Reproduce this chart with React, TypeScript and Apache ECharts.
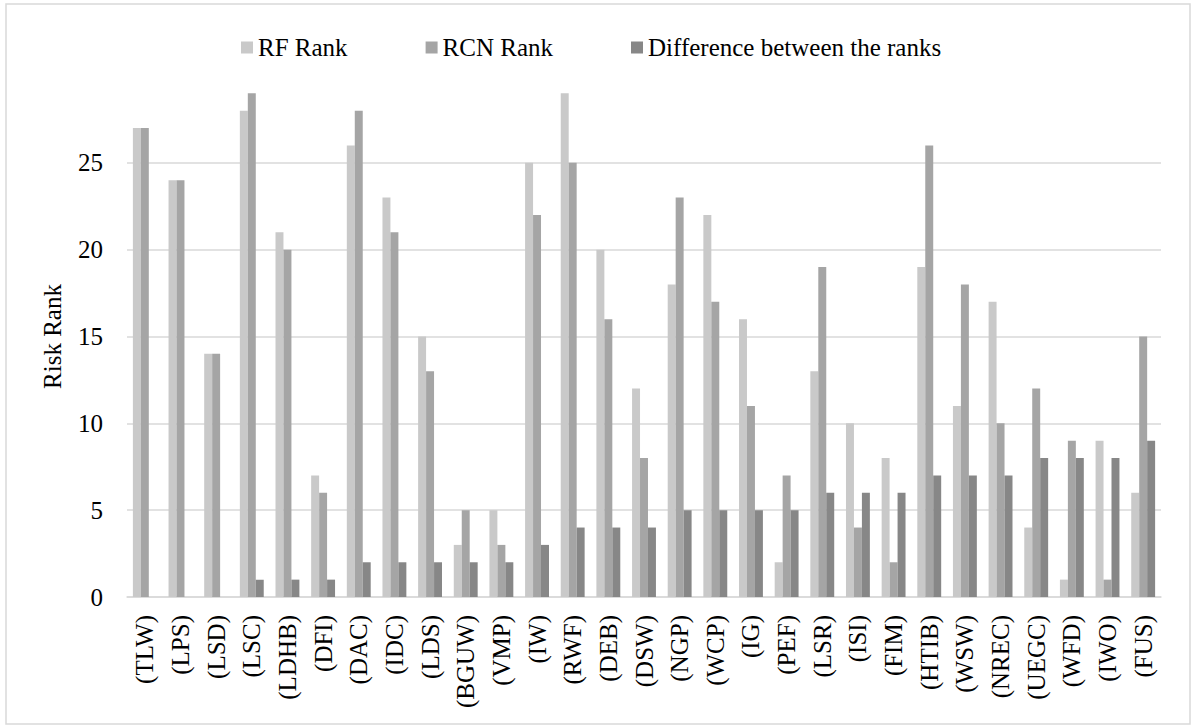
import React, { useEffect, useRef } from "react";
import * as echarts from "echarts";

const categories = ["(TLW)", "(LPS)", "(LSD)", "(LSC)", "(LDHB)", "(DFI)", "(DAC)", "(IDC)", "(LDS)", "(BGUW)", "(VMP)", "(IW)", "(RWF)", "(DEB)", "(DSW)", "(NGP)", "(WCP)", "(IG)", "(PEF)", "(LSR)", "(ISI)", "(FIM)", "(HTIB)", "(WSW)", "(NREC)", "(UEGC)", "(WFD)", "(IWO)", "(FUS)"];
const rfRank = [27, 24, 14, 28, 21, 7, 26, 23, 15, 3, 5, 25, 29, 20, 12, 18, 22, 16, 2, 13, 10, 8, 19, 11, 17, 4, 1, 9, 6];
const rcnRank = [27, 24, 14, 29, 20, 6, 28, 21, 13, 5, 3, 22, 25, 16, 8, 23, 17, 11, 7, 19, 4, 2, 26, 18, 10, 12, 9, 1, 15];
const diffRank = [0, 0, 0, 1, 1, 1, 2, 2, 2, 2, 2, 3, 4, 4, 4, 5, 5, 5, 5, 6, 6, 6, 7, 7, 7, 8, 8, 8, 9];
const yTicks = [0, 5, 10, 15, 20, 25];
const seriesNames = ["RF Rank", "RCN Rank", "Difference between the ranks"];

const FONT = "Liberation Serif";
const FS = 25;

export default function App() {
  const ref = useRef<HTMLDivElement>(null);
  useEffect(() => {
    if (!ref.current) return;
    const chart = echarts.init(ref.current, undefined, { renderer: "svg" });
    const colors = ["#c9c9c9", "#a5a5a5", "#878787"];
    const datas = [rfRank, rcnRank, diffRank];
    chart.setOption({
      animation: false,
      backgroundColor: "#ffffff",
      textStyle: { fontFamily: FONT },
      graphic: [
        {
          type: "rect",
          shape: { x: 6, y: 4, width: 1184, height: 720 },
          style: { fill: "none", stroke: "#d9d9d9", lineWidth: 1.5 },
          silent: true,
        },
      ],
      legend: {
        data: seriesNames,
        left: 236,
        top: 30,
        itemWidth: 12,
        itemHeight: 12,
        itemGap: 78,
        icon: "rect",
        textStyle: { fontFamily: FONT, fontSize: FS, color: "#000" },
      },
      grid: { left: 127, right: 33, top: 76, height: 521 },
      xAxis: {
        type: "category",
        data: categories,
        axisLine: { lineStyle: { color: "#d9d9d9", width: 1.5 } },
        axisTick: { show: false },
        axisLabel: {
          rotate: 90,
          interval: 0,
          margin: 18,
          fontFamily: FONT,
          fontSize: FS,
          color: "#000",
        },
      },
      yAxis: {
        type: "value",
        min: 0,
        max: 30,
        interval: 5,
        name: "Risk Rank",
        nameLocation: "middle",
        nameGap: 62,
        nameTextStyle: { fontFamily: FONT, fontSize: FS, color: "#000" },
        axisLine: { show: false },
        axisTick: { show: false },
        axisLabel: {
          margin: 24,
          fontFamily: FONT,
          fontSize: FS,
          color: "#000",
          formatter: (v: number) => (yTicks.indexOf(v) >= 0 ? String(v) : ""),
        },
        splitLine: {
          lineStyle: {
            color: ["#d9d9d9", "#d9d9d9", "#d9d9d9", "#d9d9d9", "#d9d9d9", "#d9d9d9", "rgba(0,0,0,0)"],
            width: 1.5,
          },
        },
      },
      series: seriesNames.map((name, i) => ({
        name,
        type: "bar",
        data: datas[i],
        barGap: "0%",
        barCategoryGap: "33%",
        itemStyle: { color: colors[i] },
      })),
    });
    return () => chart.dispose();
  }, []);
  return (
    <div
      ref={ref}
      style={{ position: "fixed", left: 0, top: 0, width: 1194, height: 728, background: "#fff" }}
    />
  );
}
